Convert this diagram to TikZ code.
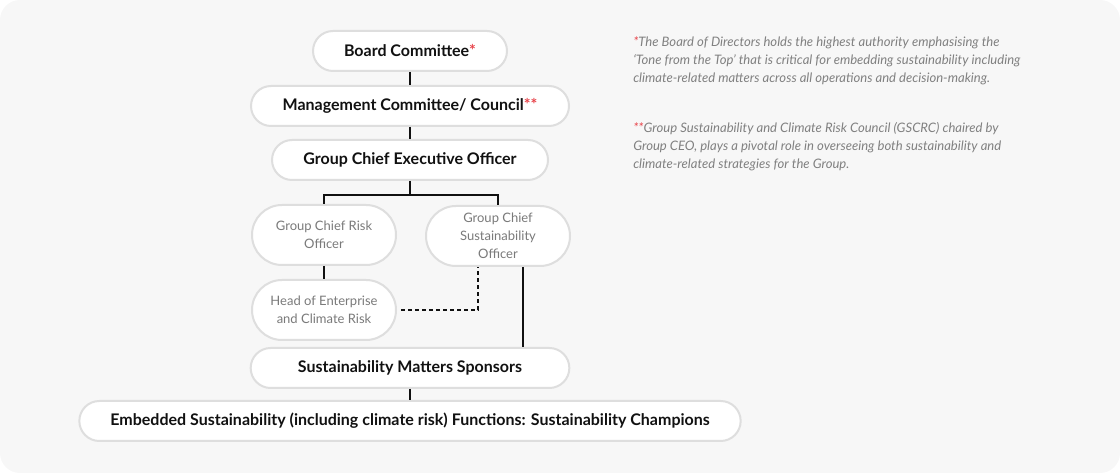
\documentclass[tikz,border=0pt]{standalone}
\usepackage{fontspec}
\setmainfont{Lato}
\begin{document}
\begin{tikzpicture}[x=0.75pt, y=-0.75pt,
    caixa/.style={draw=borda, line width=1.5pt, fill=white, rounded corners=15pt,
      minimum height=30pt, inner sep=0pt, text=texto,
      font=\fontsize{12}{14}\selectfont\bfseries},
    caixacinza/.style={caixa, rounded corners=22.5pt, minimum height=45pt,
      minimum width=108pt, align=center, text=cinza,
      font=\fontsize{9.75}{13.5}\selectfont},
    linha/.style={line width=1.5pt, texto},
    pontilhada/.style={line width=1.5pt, texto, dash pattern=on 3pt off 2.25pt},
    nota/.style={anchor=base west, align=left, text=notacor, inner sep=0pt,
      font=\fontsize{9.8}{13.5}\selectfont\itshape}]
    % Paleta de cores
    \definecolor{fundo}{HTML}{F7F7F7}
    \definecolor{borda}{HTML}{DEDEDE}
    \definecolor{texto}{HTML}{111111}
    \definecolor{cinza}{HTML}{7A7A7A}
    \definecolor{notacor}{HTML}{808080}
    \definecolor{estrela}{HTML}{E8434A}

    % Fundo arredondado
    \fill[fundo, rounded corners=15pt] (0,0) rectangle (1120,473);

    % Caixas do organograma
    \node[caixa, minimum width=145.5pt] (board) at (410,51) {Board Committee\textcolor{estrela}{*}};
    \node[caixa, minimum width=238.5pt] (mgmt) at (410,106) {Management Committee/ Council\textcolor{estrela}{**}};
    \node[caixa, minimum width=207pt] (ceo) at (410,160) {Group Chief Executive Officer};
    \node[caixacinza] (cro) at (324,235) {Group Chief Risk\\Officer};
    \node[caixacinza] (cso) at (498,236) {Group Chief\\Sustainability\\Officer};
    \node[caixacinza] (head) at (324,310) {Head of Enterprise\\and Climate Risk};
    \node[caixa, minimum width=239pt] (sponsors) at (410,368) {Sustainability Matters Sponsors};
    \node[caixa, minimum width=496pt] (champions) at (410,421) {Embedded Sustainability (including climate risk) Functions: Sustainability Champions};

    % Ligações
    \draw[linha] (board) -- (mgmt);
    \draw[linha] (mgmt) -- (ceo);
    \draw[linha] (ceo.south) -- ++(0,14) coordinate (split);
    \draw[linha] (split) -| (cro.north);
    \draw[linha] (split) -| (cso.north);
    \draw[linha] (cro) -- (head);
    \draw[pontilhada] ([xshift=3pt]head.east) -| ([xshift=-15pt]cso.south);
    \draw[linha] ([xshift=18.75pt]cso.south) -- ([xshift=18.75pt]cso.south |- sponsors.north);
    \draw[linha] (sponsors) -- (champions);

    % Notas (âncora na linha de base da última linha)
    \node[nota] (nota1) at (633,83) {\textcolor{estrela}{*}The Board of Directors holds the highest authority emphasising the\\
      ‘Tone from the Top’ that is critical for embedding sustainability including\\
      climate-related matters across all operations and decision-making.};
    \node[nota] (nota2) at (633,169) {\textcolor{estrela}{**}Group Sustainability and Climate Risk Council (GSCRC) chaired by\\
      Group CEO, plays a pivotal role in overseeing both sustainability and\\
      climate-related strategies for the Group.};
\end{tikzpicture}
\end{document}
